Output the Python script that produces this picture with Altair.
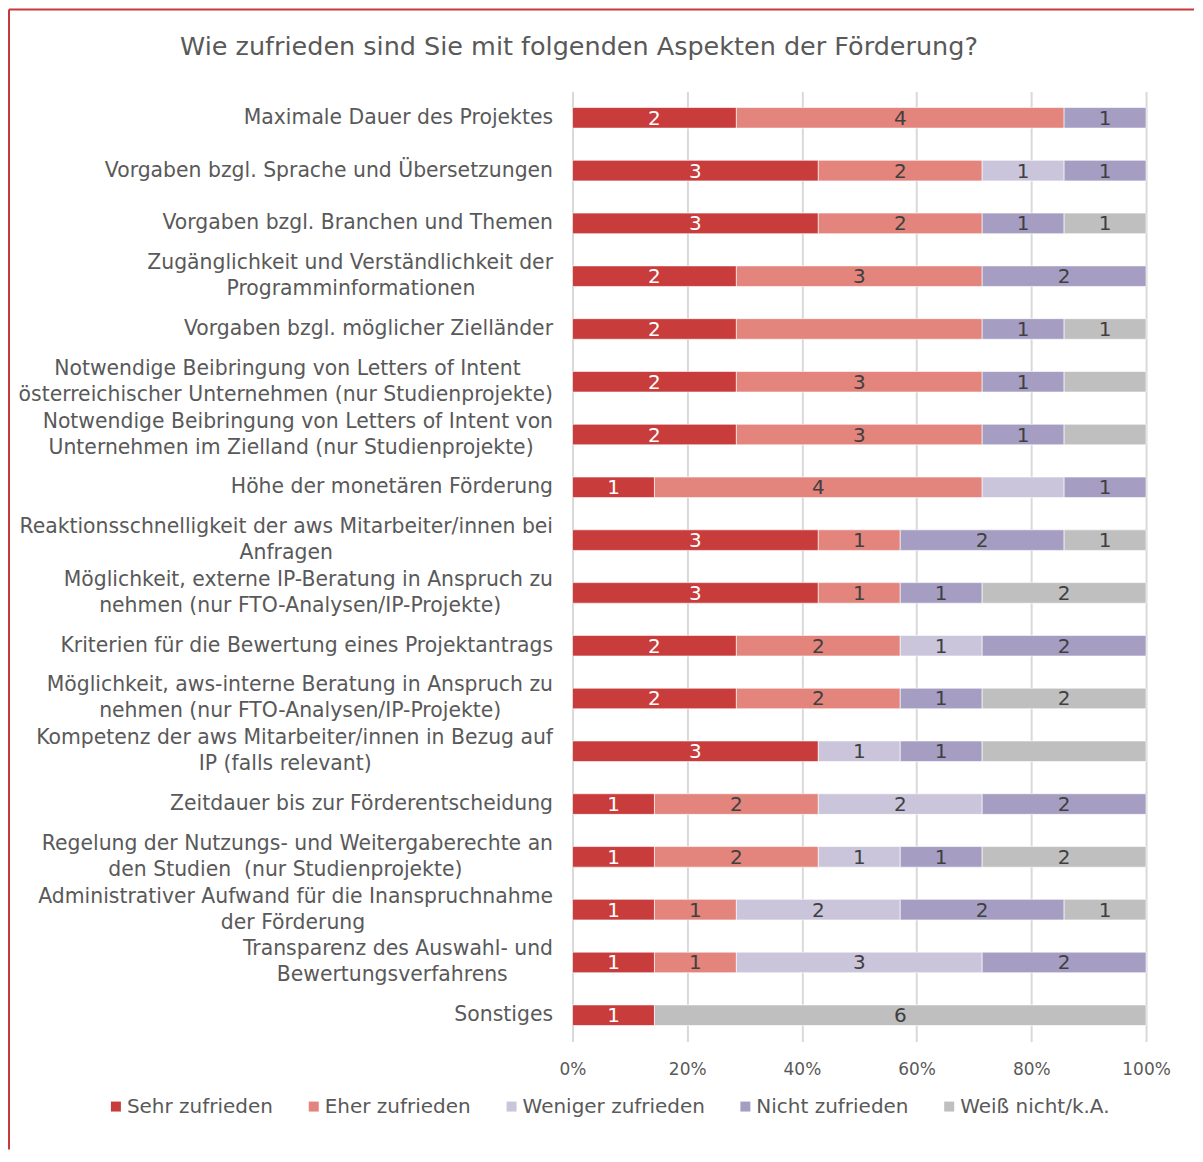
import altair as alt
import pandas as pd

NB = "\u00a0"
ZW = "\u200b"


def pad(n):
    return NB * n + ZW


# Category labels (lines of each label); shorter lines padded so they appear centred
label_lines = [
    ["Maximale Dauer des Projektes"],
    ["Vorgaben bzgl. Sprache und Übersetzungen"],
    ["Vorgaben bzgl. Branchen und Themen"],
    ["Zugänglichkeit und Verständlichkeit der", "Programminformationen" + pad(12)],
    ["Vorgaben bzgl. möglicher Zielländer"],
    ["Notwendige Beibringung von Letters of Intent" + pad(5), "österreichischer Unternehmen (nur Studienprojekte)"],
    ["Notwendige Beibringung von Letters of Intent von", "Unternehmen im Zielland (nur Studienprojekte)" + pad(3)],
    ["Höhe der monetären Förderung"],
    ["Reaktionsschnelligkeit der aws Mitarbeiter/innen bei", "Anfragen" + pad(34)],
    ["Möglichkeit, externe IP-Beratung in Anspruch zu", "nehmen (nur FTO-Analysen/IP-Projekte)" + pad(8)],
    ["Kriterien für die Bewertung eines Projektantrags"],
    ["Möglichkeit, aws-interne Beratung in Anspruch zu", "nehmen (nur FTO-Analysen/IP-Projekte)" + pad(8)],
    ["Kompetenz der aws Mitarbeiter/innen in Bezug auf", "IP (falls relevant)" + pad(28)],
    ["Zeitdauer bis zur Förderentscheidung"],
    ["Regelung der Nutzungs- und Weitergaberechte an", "den Studien" + NB + " (nur Studienprojekte)" + pad(14)],
    ["Administrativer Aufwand für die Inanspruchnahme", "der Förderung" + pad(29)],
    ["Transparenz des Auswahl- und", "Bewertungsverfahrens" + pad(7)],
    ["Sonstiges"],
]
categories = ["|".join(l) for l in label_lines]

series = ["Sehr zufrieden", "Eher zufrieden", "Weniger zufrieden", "Nicht zufrieden", "Weiß nicht/k.A."]
colors = ["#C83C3C", "#E3847D", "#CAC5DB", "#A59EC2", "#BFBFBF"]

sehr    = [2, 3, 3, 2, 2, 2, 2, 1, 3, 3, 2, 2, 3, 1, 1, 1, 1, 1]
eher    = [4, 2, 2, 3, 3, 3, 3, 4, 1, 1, 2, 2, 0, 2, 2, 1, 1, 0]
weniger = [0, 1, 0, 0, 0, 0, 0, 1, 0, 0, 1, 0, 1, 2, 1, 2, 3, 0]
nicht   = [1, 1, 1, 2, 1, 1, 1, 1, 2, 1, 2, 1, 1, 2, 1, 2, 2, 0]
weiss   = [0, 0, 1, 0, 1, 1, 1, 0, 1, 2, 0, 2, 2, 0, 2, 1, 0, 6]
values = [sehr, eher, weniger, nicht, weiss]

# segment labels not shown in the original (row index, series index)
hidden_labels = [(4, 1), (5, 4), (6, 4), (7, 2), (12, 4)]

title_text = "Wie zufrieden sind Sie mit folgenden Aspekten der Förderung?"

rows = []
for si, s in enumerate(series):
    for ci, c in enumerate(categories):
        v = values[si][ci]
        if v > 0:
            rows.append({"cat": c, "series": s, "order": si, "value": v,
                         "show": (ci, si) not in hidden_labels})
df = pd.DataFrame(rows)

FONT = "DejaVu Sans"
GREY = "#595959"

base = alt.Chart(df).transform_stack(
    stack="value", groupby=["cat"], as_=["x0", "x1"], offset="normalize",
    sort=[alt.SortField("order", "ascending")]
).transform_calculate(mid="(datum.x0 + datum.x1) / 2")

yenc = alt.Y("cat:N", sort=categories, title=None,
             scale=alt.Scale(paddingInner=0.61, paddingOuter=0.305),
             axis=alt.Axis(labelExpr="split(datum.label, '|')", labelLimit=0,
                           labelFont=FONT, labelFontSize=20.4, labelColor=GREY,
                           labelLineHeight=26, labelPadding=20, ticks=False,
                           labelOffset={"condition": {"test": "indexof(datum.value, '|') >= 0", "value": -13},
                                        "value": 0},
                           domain=False, grid=False))

bars = base.mark_bar(stroke="white", strokeWidth=0.6).encode(
    x=alt.X("x0:Q", scale=alt.Scale(domain=[0, 1], nice=False), title=None,
            axis=alt.Axis(format="%", values=[0, 0.2, 0.4, 0.6, 0.8, 1.0],
                          labelFont=FONT, labelFontSize=17, labelColor=GREY,
                          labelPadding=20, labelFlush=False, ticks=False, domain=False,
                          grid=True, gridColor="#D9D9D9", gridWidth=2)),
    x2="x1:Q",
    y=yenc,
    color=alt.Color("series:N", scale=alt.Scale(domain=series, range=colors),
                    legend=alt.Legend(title=None, orient="none", direction="horizontal",
                                      legendX=-467, legendY=1006, symbolType="square",
                                      symbolSize=100, symbolStrokeWidth=0,
                                      labelFont=FONT, labelFontSize=20, labelColor=GREY,
                                      labelLimit=0, labelOffset=1, columnPadding=30, padding=0)),
)

texts = base.transform_filter("datum.show").mark_text(
    font=FONT, fontSize=20, baseline="middle", dy=1
).encode(
    x="mid:Q",
    y=alt.Y("cat:N", sort=categories),
    text="value:Q",
    color=alt.condition(alt.datum.series == "Sehr zufrieden", alt.value("white"), alt.value("#404040")),
)

title = alt.Chart(pd.DataFrame({"t": [title_text]})).mark_text(
    font=FONT, fontSize=25.5, color=GREY, align="center", baseline="middle"
).encode(text="t:N", x=alt.value(6.5), y=alt.value(-44))

frame_top = alt.Chart(pd.DataFrame({"a": [0]})).mark_rule(color="#C8393B", strokeWidth=2).encode(
    x=alt.value(-564), x2=alt.value(622), y=alt.value(-82))
frame_left = alt.Chart(pd.DataFrame({"a": [0]})).mark_rule(color="#C8393B", strokeWidth=2).encode(
    x=alt.value(-564), y=alt.value(-82), y2=alt.value(1059))

chart = alt.layer(bars, texts, title, frame_top, frame_left).properties(
    width=574, height=951, padding=0, background="white"
).configure_view(stroke=None)

chart.save("out.html", embed_options={"renderer": "svg", "actions": False})
